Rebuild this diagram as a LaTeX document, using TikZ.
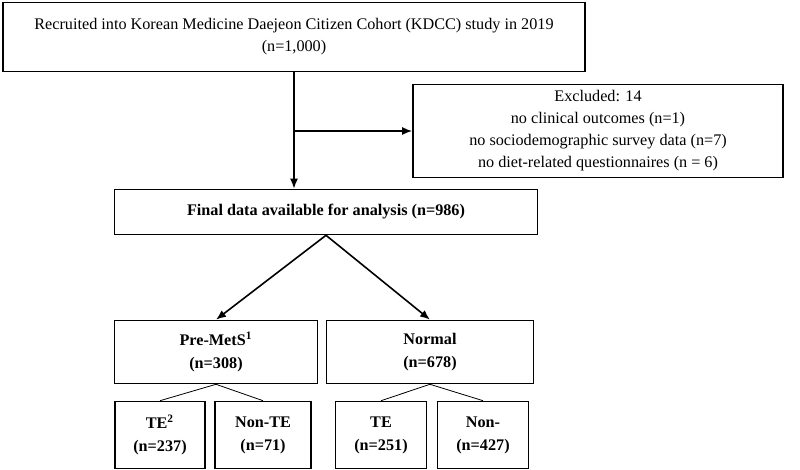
\documentclass[tikz,border=0pt]{standalone}
\usepackage{fontspec}
\setmainfont{Liberation Serif}
\usetikzlibrary{positioning,arrows.meta}

\begin{document}
\begin{tikzpicture}[x=0.5pt,y=-0.5pt,
    box/.style={draw,thick,align=center,inner sep=0pt,font=\fontsize{8.1}{11}\selectfont},
    bbox/.style={box,font=\fontsize{8.1}{11.5}\selectfont\bfseries},
    arr/.style={-{Latex[length=5pt,width=4pt]},thick}]
    \useasboundingbox (0,0) rectangle (800,470);
    % boxes
    \node [box,minimum width=291pt,minimum height=34.5pt] (recr) at (294,37) {Recruited into Korean Medicine Daejeon Citizen Cohort (KDCC) study in 2019\\(n=1,000)};
    \node [box,minimum width=185pt,minimum height=46.5pt] (excl) at (598,131) {Excluded: 14\\no clinical outcomes (n=1)\\no sociodemographic survey data (n=7)\\no diet-related questionnaires (n = 6)};
    \node [bbox,minimum width=211.5pt,minimum height=22.5pt] (final) at (326,212) {Final data available for analysis (n=986)};
    \node [bbox,minimum width=101.5pt,minimum height=31.5pt] (pre) at (216,352) {Pre-MetS\textsuperscript{1}\\(n=308)};
    \node [bbox,minimum width=103.5pt,minimum height=31.5pt] (norm) at (430,352) {Normal\\(n=678)};
    \node [bbox,minimum width=45pt,minimum height=33.5pt] (te1) at (160,435) {TE\textsuperscript{2}\\(n=237)};
    \node [bbox,minimum width=48pt,minimum height=33.5pt] (nte1) at (263,435) {Non-TE\\(n=71)};
    \node [bbox,minimum width=45.5pt,minimum height=33.5pt] (te2) at (381,435) {TE\\(n=251)};
    \node [bbox,minimum width=45.5pt,minimum height=33.5pt] (nte2) at (483,435) {Non-\\(n=427)};
    \coordinate (mid) at (recr.south |- excl.west);
    % connectors
    \draw [arr] (recr.south) -- (recr.south |- final.north);
    \draw [arr] (mid) -- (excl.west);
    \draw [arr] (final.south) -- (pre.north);
    \draw [arr] (final.south) -- (norm.north);
    \draw (pre.south) -- (te1.north);
    \draw (pre.south) -- (nte1.north);
    \draw (norm.south) -- (te2.north);
    \draw (norm.south) -- (nte2.north);
\end{tikzpicture}
\end{document}
